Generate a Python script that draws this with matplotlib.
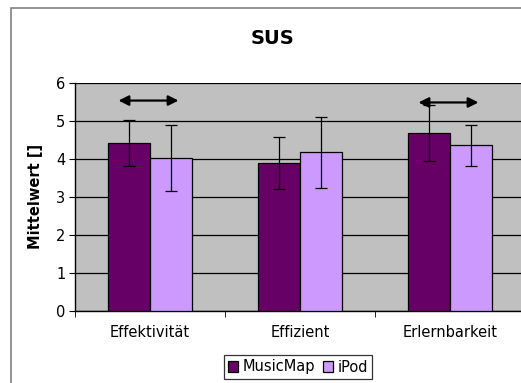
import matplotlib

matplotlib.use("Agg")
import matplotlib.pyplot as plt
from matplotlib.patches import Rectangle
import numpy as np

# values
CATEGORIES = ["Effektivität", "Effizient", "Erlernbarkeit"]
MUSICMAP = [4.42, 3.89, 4.68]
MUSICMAP_ERR = [0.60, 0.69, 0.74]
IPOD = [4.02, 4.17, 4.35]
IPOD_ERR = [0.88, 0.94, 0.54]
ARROW_Y = [5.53, None, 5.48]   # significance arrows over groups

plt.rcParams.update({"font.family": "DejaVu Sans", "font.size": 10})
fig = plt.figure(figsize=(5.21, 3.83), dpi=100)
ax = fig.add_axes([75 / 521, 1 - 310.7 / 383, 450 / 521, 228 / 383])

x = np.arange(len(CATEGORIES))
w = 0.28
ax.set_facecolor("#C0C0C0")
ax.bar(x - w / 2, MUSICMAP, w, color="#660066", edgecolor="black", lw=0.9,
       label="MusicMap", zorder=3)
ax.bar(x + w / 2, IPOD, w, color="#CC99FF", edgecolor="black", lw=0.9,
       label="iPod", zorder=3)
ax.errorbar(x - w / 2, MUSICMAP, yerr=MUSICMAP_ERR, fmt="none", ecolor="black",
            elinewidth=0.9, capsize=4, capthick=0.9, zorder=4)
ax.errorbar(x + w / 2, IPOD, yerr=IPOD_ERR, fmt="none", ecolor="black",
            elinewidth=0.9, capsize=4, capthick=0.9, zorder=4)

for xi, ay in zip(x, ARROW_Y):
    if ay is None:
        continue
    ax.annotate("", xy=(xi + 0.19, ay), xytext=(xi - 0.21, ay),
                arrowprops=dict(arrowstyle="<|-|>", color="black", lw=1.6,
                                mutation_scale=15, shrinkA=0, shrinkB=0), zorder=5)

ax.set_xlim(-0.5, 2.5)
ax.set_ylim(0, 6)
ax.set_yticks(range(7))
ax.yaxis.grid(True, color="black", lw=0.9, zorder=1)
ax.set_xticks(x)
ax.set_xticklabels(CATEGORIES, fontsize=10.5)
ax.tick_params(axis="x", length=0, pad=10)
ax.set_xticks([-0.5, 0.5, 1.5, 2.5], minor=True)
ax.tick_params(axis="x", which="minor", length=4, direction="out")
ax.tick_params(axis="y", length=4, direction="out", labelsize=10.5, pad=3)
for s in ("top", "right"):
    ax.spines[s].set_visible(False)
ax.spines["left"].set_linewidth(1)
ax.spines["bottom"].set_linewidth(1)
ax.set_ylabel("Mittelwert []", fontweight="bold", fontsize=10.5, labelpad=9)

fig.text(272 / 521, 1 - 38 / 383, "SUS", ha="center", va="center",
         fontweight="bold", fontsize=14)

leg = fig.legend(loc="center", bbox_to_anchor=(298 / 521, 1 - 367 / 383), ncol=2,
                 fontsize=10.5, frameon=True, fancybox=False, edgecolor="black",
                 handlelength=0.7, handleheight=0.7, handletextpad=0.3,
                 columnspacing=0.5, borderpad=0.3, borderaxespad=0)
leg.get_frame().set_linewidth(0.9)

fig.patches.append(Rectangle((11 / 521, -0.1), 1.2, 1.1 - 8 / 383, transform=fig.transFigure,
                             fill=False, edgecolor="#808080", lw=1.2))

fig.savefig("out.png", dpi=100, facecolor="white")
